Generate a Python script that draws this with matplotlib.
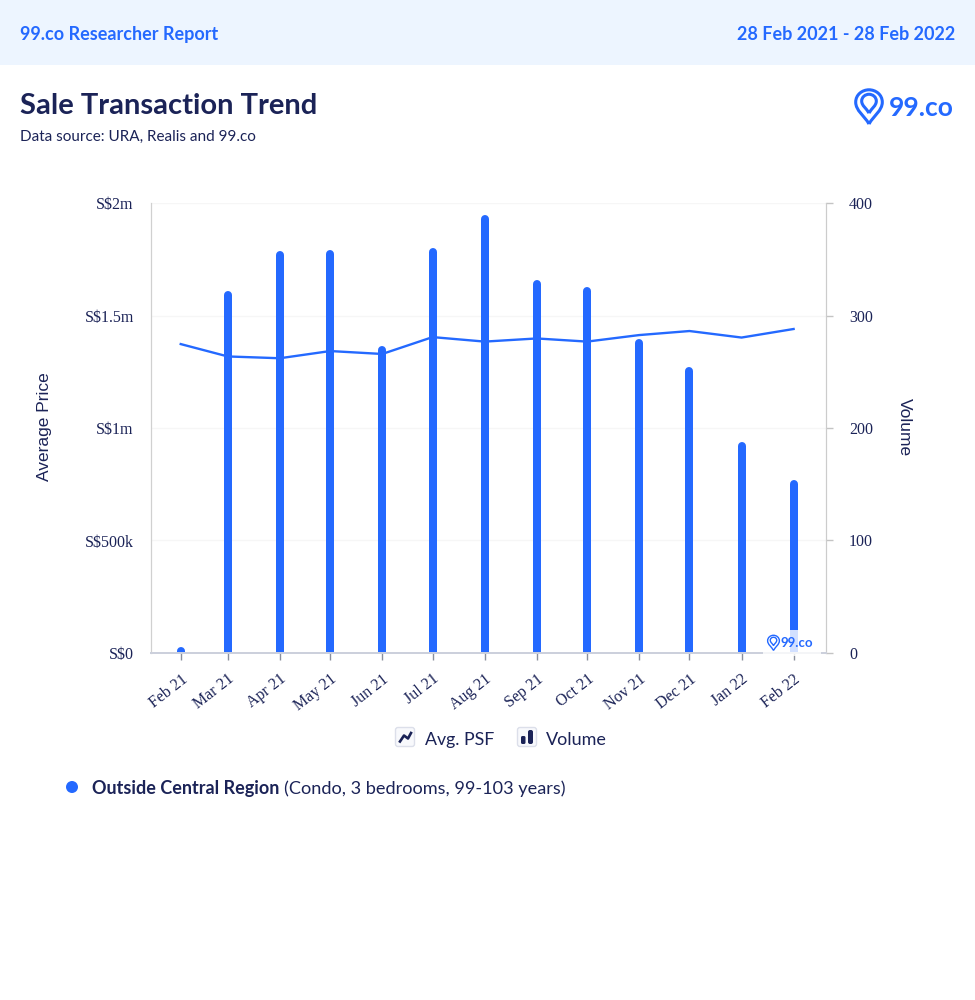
import datetime as dt

import matplotlib.pyplot as plt
from matplotlib.patches import Circle, FancyBboxPatch, PathPatch, Rectangle
from matplotlib.path import Path
from matplotlib.transforms import Affine2D

# data

months = [dt.date(2021, m, 1) for m in range(2, 13)] + [dt.date(2022, 1, 1), dt.date(2022, 2, 1)]
month_labels = ["Feb 21", "Mar 21", "Apr 21", "May 21", "Jun 21", "Jul 21", "Aug 21",
                "Sep 21", "Oct 21", "Nov 21", "Dec 21", "Jan 22", "Feb 22"]
avg_price = [1.373e6, 1.318e6, 1.310e6, 1.342e6, 1.329e6, 1.404e6, 1.384e6,
             1.398e6, 1.384e6, 1.413e6, 1.431e6, 1.402e6, 1.440e6]
volume = [5, 322, 357, 358, 273, 360, 389, 332, 325, 279, 254, 188, 154]

price_ticks = [0, 0.5e6, 1e6, 1.5e6, 2e6]
price_labels = ["S$0", "S$500k", "S$1m", "S$1.5m", "S$2m"]
volume_ticks = [0, 100, 200, 300, 400]

BLUE = "#2469ff"
NAVY = "#1b2357"
SANS = "Lato"
SERIF = "Liberation Serif"

W, H = 975, 1000
L, R, T, B = 150.5, 825.5, 203, 653

fig = plt.figure(figsize=(W / 100, H / 100), dpi=100)
fig.patch.set_facecolor("white")

# chart

ax = fig.add_axes([L / W, 1 - B / H, (R - L) / W, (B - T) / H])
ax2 = ax.twinx()

ax.set_xlim(dt.date(2021, 1, 14), dt.date(2022, 2, 20))
ax.set_ylim(0, 2e6)
ax2.set_ylim(0, 400)

ax.set_zorder(2)
ax.patch.set_visible(False)
ax2.set_zorder(1)

# the grid goes on the volume axes so it stays under the bars
ax2.yaxis.grid(True, color="#f6f6f6", linewidth=1)
ax2.set_axisbelow(True)

# round top bars, moved down by the cap radius so the cap ends on the value
cap_shift = Affine2D().translate(0, -4)
ax2.vlines(months, 0, volume, color=BLUE, linewidth=8 * 72 / 100, capstyle="round",
           transform=ax2.transData + cap_shift, clip_on=True, zorder=2)
ax.plot(months, avg_price, color=BLUE, linewidth=1.7, solid_joinstyle="round")

ax.set_xticks(months)
ax.set_xticklabels(month_labels, rotation=38, ha="right", va="top", rotation_mode="anchor",
                   family=SERIF, fontsize=11.5, color=NAVY)
label_shift = Affine2D().translate(7, 0)
for tick_label in ax.get_xticklabels():
    tick_label.set_transform(tick_label.get_transform() + label_shift)
ax.tick_params(axis="x", length=5, width=1, color="#8a8f9c", pad=8)

ax.set_yticks(price_ticks)
ax.set_yticklabels(price_labels, family=SERIF, fontsize=11.5, color=NAVY)
ax.tick_params(axis="y", length=0, pad=12)

ax2.set_yticks(volume_ticks)
ax2.set_yticklabels(volume_ticks, family=SERIF, fontsize=11.5, color=NAVY)
ax2.tick_params(axis="y", length=5, width=1, color="#c4c4c4", pad=12)

for a in (ax, ax2):
    a.spines["top"].set_visible(False)
    a.spines["left"].set_color("#d0d0d0")
    a.spines["right"].set_color("#cccccc")
    a.spines["bottom"].set_color("#ccd0dc")
    a.spines["bottom"].set_linewidth(1.4)

# page furniture, drawn in pixel coordinates

page = fig.add_axes([0, 0, 1, 1], zorder=5)
page.set_xlim(0, W)
page.set_ylim(H, 0)
page.axis("off")
page.patch.set_visible(False)

backdrop = fig.add_axes([0, 0, 1, 1], zorder=0)
backdrop.set_xlim(0, W)
backdrop.set_ylim(H, 0)
backdrop.axis("off")
backdrop.add_patch(Rectangle((0, 0), W, 64.5, color="#edf5ff", linewidth=0))


def draw_drop(cx, cy, s, lw):
    verts = [(cx, cy + 20 * s), (cx - 5 * s, cy + 11 * s), (cx - 14 * s, cy + 6 * s),
             (cx - 14 * s, cy - 3 * s), (cx - 14 * s, cy - 11 * s), (cx - 7 * s, cy - 16 * s),
             (cx, cy - 16 * s), (cx + 7 * s, cy - 16 * s), (cx + 14 * s, cy - 11 * s),
             (cx + 14 * s, cy - 3 * s), (cx + 14 * s, cy + 6 * s), (cx + 5 * s, cy + 11 * s),
             (cx, cy + 20 * s)]
    codes = [Path.MOVETO] + [Path.CURVE4] * 12
    page.add_patch(PathPatch(Path(verts, codes), facecolor="none", edgecolor=BLUE,
                             linewidth=lw, joinstyle="round"))


def draw_pin(cx, cy, s, lw):
    # outer drop with a smaller drop inside
    draw_drop(cx, cy, s, lw)
    draw_drop(cx, cy - 2.5 * s, s * 0.55, lw)


page.text(20, 34.5, "99.co Researcher Report", family=SANS, weight="bold", fontsize=13,
          color=BLUE, va="center")
page.text(955, 34, "28 Feb 2021 - 28 Feb 2022", family=SANS, weight="bold", fontsize=13,
          color=BLUE, va="center", ha="right")
page.text(20, 106, "Sale Transaction Trend", family=SANS, weight="bold", fontsize=21,
          color=NAVY, va="center")
page.text(20, 137, "Data source: URA, Realis and 99.co", family=SANS, fontsize=11,
          color=NAVY, va="center")

draw_pin(869, 105, 0.95, 2.2)
page.text(954, 108, "99.co", family=SANS, weight="bold", fontsize=19, color=BLUE,
          va="center", ha="right")

# watermark fades whatever is under it
page.add_patch(Rectangle((763, 630), 58, 26, facecolor="white", alpha=0.8, linewidth=0))
draw_pin(773.5, 642, 0.42, 1.0)
page.text(813, 643, "99.co", family=SANS, weight="bold", fontsize=9.5, color=BLUE,
          va="center", ha="right")

page.text(44, 427, "Average Price", family="Liberation Sans", fontsize=12.5, color=NAVY,
          rotation=90, va="center", ha="center")
page.text(904, 427, "Volume", family="Liberation Sans", fontsize=12.5, color=NAVY,
          rotation=270, va="center", ha="center")

# legend icons

for x0 in (395.5, 517.5):
    page.add_patch(FancyBboxPatch((x0, 727.5), 19, 19, boxstyle="round,pad=0,rounding_size=2.5",
                                  facecolor="#f8f9fc", edgecolor="#dcdfea", linewidth=1))
page.plot([400, 404, 408, 411], [741.5, 735.5, 738.5, 733], color=NAVY, linewidth=1.9)
page.add_patch(FancyBboxPatch((521, 736), 4.5, 8, boxstyle="round,pad=0,rounding_size=1.5",
                              facecolor=NAVY, edgecolor="none"))
page.add_patch(FancyBboxPatch((528, 730), 5, 14, boxstyle="round,pad=0,rounding_size=2",
                              facecolor=NAVY, edgecolor="none"))
page.text(425, 740, "Avg. PSF", family=SANS, fontsize=12.8, color=NAVY, va="center")
page.text(546, 740, "Volume", family=SANS, fontsize=13, color=NAVY, va="center")

page.add_patch(Circle((72, 787), 6, facecolor=BLUE, edgecolor="none"))
label = page.text(92, 788.5, "Outside Central Region", family=SANS, weight="bold", fontsize=13,
                  color=NAVY, va="center")
fig.canvas.draw()
end = label.get_window_extent().x1
page.text(end + 5, 788.5, "(Condo, 3 bedrooms, 99-103 years)", family=SANS, fontsize=13.1,
          color=NAVY, va="center")

fig.savefig("out.png", dpi=100)
